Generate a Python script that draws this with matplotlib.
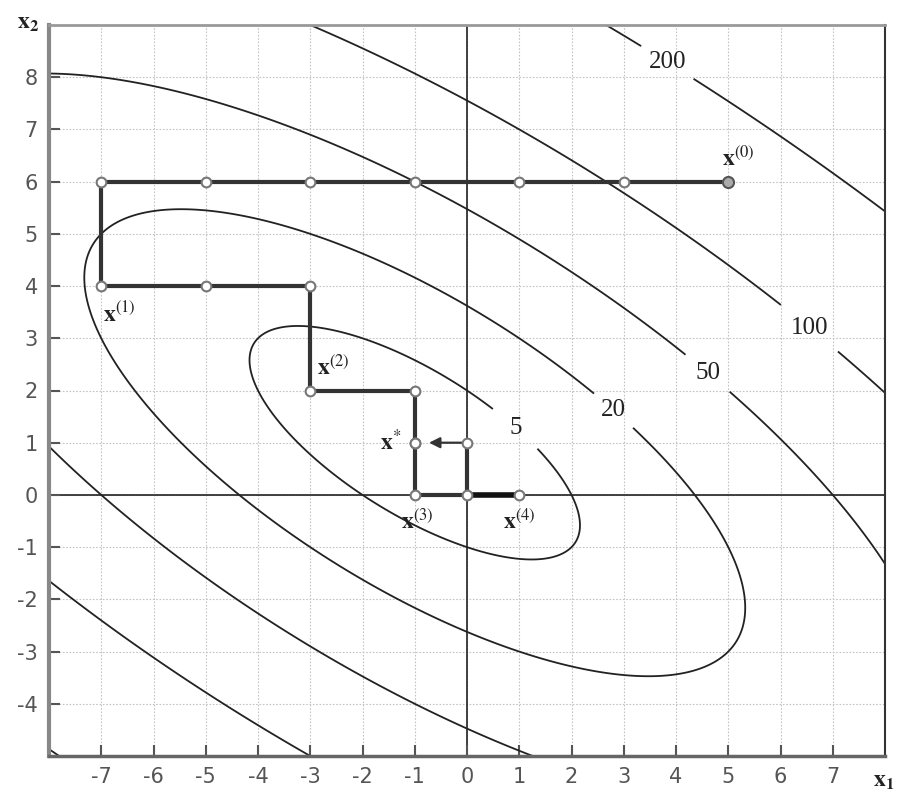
import numpy as np
import matplotlib
matplotlib.use("Agg")
import matplotlib.pyplot as plt

plt.rcParams['mathtext.fontset'] = 'stix'
plt.rcParams['axes.unicode_minus'] = False

# Objective f(x) = (x1 + x2)^2 + (x2 - 1)^2, minimum at x* = (-1, 1)
coef_sum = 1.0      # weight of (x1 + x2)^2
coef_x2 = 1.0       # weight of (x2 - 1)^2
x2_shift = 1.0
levels = [5, 20, 50, 100, 200]
label_pos = [(0.97, 1.32), (2.88, 1.7), (4.73, 2.48), (6.6, 3.25), (3.97, 8.5)]
label_gap = [22, 10, 13, 13, 7]

# Cyclic coordinate search path
path_x1 = [5, 3, 1, -1, -3, -5, -7, -7, -5, -3, -3, -1, -1, -1, 0, 1]
path_x2 = [6, 6, 6, 6, 6, 6, 6, 4, 4, 4, 2, 2, 1, 0, 0, 0]
# final refinement: (0,0) -> (0,1), then arrow towards the optimum
final_x1 = [0, 0]
final_x2 = [0, 1]
opt = (-1, 1)

# point labels
pt_labels = [r'$\mathbf{x}^{(0)}$', r'$\mathbf{x}^{(1)}$', r'$\mathbf{x}^{(2)}$',
             r'$\mathbf{x}^{(3)}$', r'$\mathbf{x}^{(4)}$', r'$\mathbf{x}^{*}$']
pt_label_xy = [(5.2, 6.45), (-6.65, 3.45), (-2.55, 2.45), (-0.95, -0.5), (1.0, -0.5), (-1.25, 1.0)]
pt_label_ha = ['center', 'center', 'center', 'center', 'center', 'right']

xticks = list(range(-7, 8))
yticks = list(range(-4, 9))

fig = plt.figure(figsize=(8.97, 7.95), dpi=100)
ax = fig.add_axes([49 / 897, 1 - 756 / 795, (885 - 49) / 897, (756 - 25) / 795])
ax.set_xlim(-8, 8)
ax.set_ylim(-5, 9)

# grid
for t in xticks:
    ax.axvline(t, color='#c4c4c4', lw=0.8, ls=(0, (1.5, 1.5)), zorder=0)
for t in yticks:
    ax.axhline(t, color='#c4c4c4', lw=0.8, ls=(0, (1.5, 1.5)), zorder=0)
ax.axvline(0, color='#222222', lw=1.2, zorder=1)
ax.axhline(0, color='#222222', lw=1.2, zorder=1)

# contours, one set per level so each label gets its own gap
g1 = np.linspace(-8, 8, 600)
g2 = np.linspace(-5, 9, 600)
X1, X2 = np.meshgrid(g1, g2)
F = coef_sum * (X1 + X2) ** 2 + coef_x2 * (X2 - x2_shift) ** 2
for lev, pos, gap in zip(levels, label_pos, label_gap):
    cs = ax.contour(X1, X2, F, levels=[lev], colors='#222222', linewidths=1.3, zorder=2)
    cl = ax.clabel(cs, fmt='%d', manual=[pos], inline=True,
                   inline_spacing=gap, fontsize=18)
    for t in cl:
        t.set_fontfamily('Liberation Serif')
        t.set_color('#222222')
        t.set_rotation(0)

# search path
ax.plot(path_x1, path_x2, color='#333333', lw=3, solid_joinstyle='miter', zorder=3)
ax.plot(final_x1, final_x2, color='#333333', lw=3, zorder=3)
ax.plot([0, 1], [0, 0], color='#111111', lw=4, zorder=3)
ax.annotate('', xy=(opt[0] + 0.22, opt[1]), xytext=(0, 1),
            arrowprops=dict(arrowstyle='-|>', color='#333333', lw=1.6,
                            mutation_scale=16), zorder=4)
ax.plot(path_x1 + final_x1[1:] + [opt[0]], path_x2 + final_x2[1:] + [opt[1]],
        ls='none', marker='o', ms=7, mfc='white', mec='#777777', mew=1.5, zorder=5)
ax.plot([5], [6], ls='none', marker='o', ms=8, mfc='#aaaaaa', mec='#555555', mew=1.5, zorder=6)

for lab, (lx, ly), ha in zip(pt_labels, pt_label_xy, pt_label_ha):
    ax.text(lx, ly, lab, fontsize=17, ha=ha, va='center', color='#222222', zorder=7)

# axes frame and ticks
ax.set_xticks(xticks)
ax.set_yticks(yticks)
ax.tick_params(direction='in', length=8, width=1.5, colors='#555555',
               labelsize=15, labelcolor='#555555', pad=8)
for lab in ax.get_xticklabels() + ax.get_yticklabels():
    lab.set_fontfamily('DejaVu Sans')
ax.spines['left'].set_linewidth(3)
ax.spines['left'].set_color('#888888')
ax.spines['bottom'].set_linewidth(2.5)
ax.spines['bottom'].set_color('#666666')
ax.spines['top'].set_linewidth(2)
ax.spines['top'].set_color('#999999')
ax.spines['right'].set_linewidth(1.5)
ax.spines['right'].set_color('#333333')

fig.text(28 / 897, 1 - 22 / 795, r'$\mathbf{x}_{\mathbf{2}}$', fontsize=17,
         ha='center', va='center', color='#222222')
fig.text(884 / 897, 1 - 780 / 795, r'$\mathbf{x}_{\mathbf{1}}$', fontsize=17,
         ha='center', va='center', color='#222222')

fig.savefig('out.png', dpi=100, facecolor='white')
